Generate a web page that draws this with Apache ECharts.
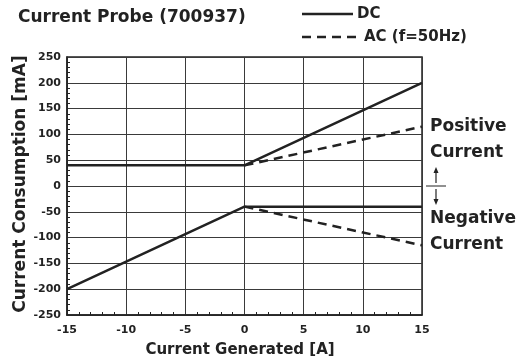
<!DOCTYPE html>
<html>
<head>
<meta charset="utf-8">
<script src="https://cdn.jsdelivr.net/npm/echarts@6/dist/echarts.min.js"></script>
<style>
  html, body { margin: 0; padding: 0; background: #fff; }
  #chart { width: 516px; height: 363px; }
</style>
</head>
<body>
<div id="chart"></div>
<script>
// data
var dcPosX = [-15, 0, 15];
var dcPosY = [40, 40, 200];
var dcNegX = [-15, 0, 15];
var dcNegY = [-200, -40, -40];
var acPosX = [0, 15];
var acPosY = [40, 115];
var acNegX = [0, 15];
var acNegY = [-40, -115];

var FONT = "DejaVu Sans";
var INK = "#222";

function pairs(xs, ys) {
  var out = [];
  for (var i = 0; i < xs.length; i++) out.push([xs[i], ys[i]]);
  return out;
}

var myChart = echarts.init(document.getElementById("chart"));

var solid = { color: INK, width: 2.5, type: "solid" };
var dashed = { color: INK, width: 2.5, type: [9, 6] };

myChart.setOption({
  animation: false,
  backgroundColor: "#fff",
  grid: {
    left: 67, right: 94, top: 57, bottom: 48,
    show: true, borderColor: INK, borderWidth: 1.5
  },
  xAxis: {
    type: "value",
    min: -15, max: 15, interval: 5,
    axisLine: { show: true, onZero: false, lineStyle: { color: INK, width: 1.5 } },
    axisTick: { show: true, inside: true, length: 0 },
    minorTick: { show: true, splitNumber: 5, length: 3, lineStyle: { color: INK, width: 1 } },
    splitLine: { show: true, showMinLine: true, showMaxLine: true, lineStyle: { color: "#3a3a3a", width: 1 } },
    axisLabel: { color: INK, fontFamily: FONT, fontWeight: "bold", fontSize: 11, margin: 10 }
  },
  yAxis: {
    type: "value",
    min: -250, max: 250, interval: 50,
    axisLine: { show: true, onZero: false, lineStyle: { color: INK, width: 1.5 } },
    axisTick: { show: true, inside: true, length: 0 },
    minorTick: { show: true, splitNumber: 5, length: 3, lineStyle: { color: INK, width: 1 } },
    splitLine: { show: true, showMinLine: true, showMaxLine: true, lineStyle: { color: "#3a3a3a", width: 1 } },
    axisLabel: { color: INK, fontFamily: FONT, fontWeight: "bold", fontSize: 11, margin: 6 }
  },
  series: [
    { name: "DC", type: "line", symbol: "none", lineStyle: solid, data: pairs(dcPosX, dcPosY) },
    { name: "DC", type: "line", symbol: "none", lineStyle: solid, data: pairs(dcNegX, dcNegY) },
    { name: "AC (f=50Hz)", type: "line", symbol: "none", lineStyle: dashed, data: pairs(acPosX, acPosY) },
    { name: "AC (f=50Hz)", type: "line", symbol: "none", lineStyle: dashed, data: pairs(acNegX, acNegY) }
  ],
  graphic: [
    // title
    { type: "text", left: 18, top: 9,
      style: { text: "Current Probe (700937)", font: "bold 17px " + FONT, fill: INK } },
    // legend
    { type: "line", shape: { x1: 302, y1: 14, x2: 353, y2: 14 },
      style: { stroke: INK, lineWidth: 2.5 } },
    { type: "text", x: 357, y: 14,
      style: { text: "DC", font: "bold 15px " + FONT, fill: INK, verticalAlign: "middle" } },
    { type: "line", shape: { x1: 302, y1: 37, x2: 357, y2: 37 },
      style: { stroke: INK, lineWidth: 2.5, lineDash: [9, 6] } },
    { type: "text", x: 364, y: 37,
      style: { text: "AC (f=50Hz)", font: "bold 15px " + FONT, fill: INK, verticalAlign: "middle" } },
    // axis names
    { type: "text", x: 21, y: 184, rotation: Math.PI / 2,
      style: { text: "Current Consumption [mA]", font: "bold 17px " + FONT, fill: INK,
               align: "center", verticalAlign: "middle" } },
    { type: "text", x: 240, y: 350,
      style: { text: "Current Generated [A]", font: "bold 15px " + FONT, fill: INK,
               align: "center", verticalAlign: "middle" } },
    // side notes
    { type: "text", x: 430, y: 127,
      style: { text: "Positive", font: "bold 17px " + FONT, fill: INK, verticalAlign: "middle" } },
    { type: "text", x: 430, y: 153,
      style: { text: "Current", font: "bold 17px " + FONT, fill: INK, verticalAlign: "middle" } },
    { type: "text", x: 430, y: 219,
      style: { text: "Negative", font: "bold 17px " + FONT, fill: INK, verticalAlign: "middle" } },
    { type: "text", x: 430, y: 245,
      style: { text: "Current", font: "bold 17px " + FONT, fill: INK, verticalAlign: "middle" } },
    { type: "line", shape: { x1: 426, y1: 186, x2: 446, y2: 186 },
      style: { stroke: INK, lineWidth: 1 } },
    { type: "line", shape: { x1: 436, y1: 171, x2: 436, y2: 183 },
      style: { stroke: INK, lineWidth: 1.2 } },
    { type: "polygon", shape: { points: [[436, 167], [433.5, 173], [438.5, 173]] },
      style: { fill: INK } },
    { type: "line", shape: { x1: 436, y1: 189, x2: 436, y2: 201 },
      style: { stroke: INK, lineWidth: 1.2 } },
    { type: "polygon", shape: { points: [[436, 205], [433.5, 199], [438.5, 199]] },
      style: { fill: INK } }
  ]
});
</script>
</body>
</html>
